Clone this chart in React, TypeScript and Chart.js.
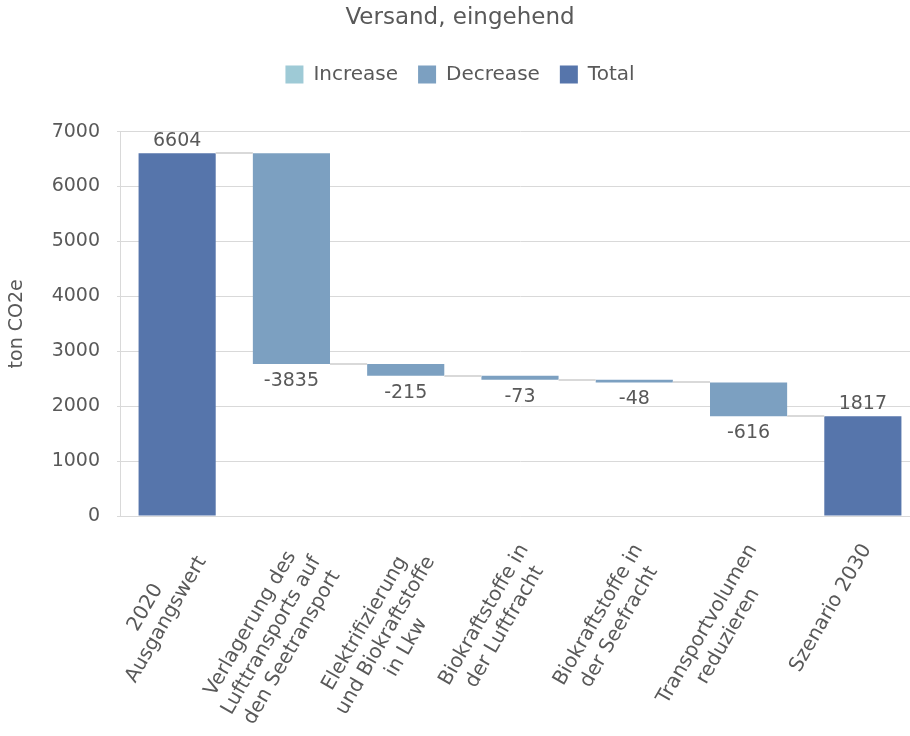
import React, { useEffect, useRef } from "react";
import { Chart, registerables } from "chart.js";

Chart.register(...registerables);

// ---- data ----
const chartTitle = "Versand, eingehend";
const yAxisTitle = "ton CO2e";
const categories: string[][] = [
  ["2020", "Ausgangswert"],
  ["Verlagerung des", "Lufttransports auf", "den Seetransport"],
  ["Elektrifizierung", "und Biokraftstoffe", "in Lkw"],
  ["Biokraftstoffe in", "der Luftfracht"],
  ["Biokraftstoffe in", "der Seefracht"],
  ["Transportvolumen", "reduzieren"],
  ["Szenario 2030"],
];
const stepValues = [6604, -3835, -215, -73, -48, -616, 1817];
const stepKinds = ["total", "decrease", "decrease", "decrease", "decrease", "decrease", "total"];
const seriesNames = ["Increase", "Decrease", "Total"];
const seriesKinds = ["increase", "decrease", "total"];
const seriesColors = ["#9ECAD6", "#7CA0C1", "#5675AB"];
const yTickValues = [0, 1000, 2000, 3000, 4000, 5000, 6000, 7000];

// ---- styling constants ----
const FONT = '"DejaVu Sans", sans-serif';
const TEXT = "#595959";
const GRID = "#d9d9d9";

// running levels -> floating ranges
const ranges: [number, number][] = [];
const levelsAfter: number[] = [];
{
  let level = 0;
  stepValues.forEach((v, i) => {
    const k = stepKinds[i];
    if (k === "total") {
      ranges.push([0, v]);
      level = v;
    } else {
      ranges.push([Math.min(level, level + v), Math.max(level, level + v)]);
      level = level + v;
    }
    levelsAfter.push(level);
  });
}

export default function App() {
  const canvasRef = useRef<HTMLCanvasElement | null>(null);

  useEffect(() => {
    const canvas = canvasRef.current;
    if (!canvas) return;

    const datasets = seriesNames.map((name, s) => ({
      label: name,
      data: ranges.map((r, i) => (stepKinds[i] === seriesKinds[s] ? r : null)),
      backgroundColor: seriesColors[s],
      borderWidth: 0,
      barPercentage: 0.675,
      categoryPercentage: 1,
    }));

    const getBar = (chart: any, i: number) => {
      const s = seriesKinds.indexOf(stepKinds[i]);
      const el: any = chart.getDatasetMeta(s).data[i];
      const top = Math.min(el.y, el.base);
      const bottom = Math.max(el.y, el.base);
      return { left: el.x - el.width / 2, right: el.x + el.width / 2, top, bottom, x: el.x };
    };

    const legendSpacer = {
      id: "legendSpacer",
      beforeInit(chart: any) {
        const origFit = chart.legend.fit;
        chart.legend.fit = function () {
          origFit.call(this);
          this.height += 37;
        };
      },
    };

    const waterfallDecor = {
      id: "waterfallDecor",
      afterDatasetsDraw(chart: any) {
        const { ctx } = chart;
        const y = chart.scales.y;
        ctx.save();
        // connectors
        ctx.strokeStyle = GRID;
        ctx.lineWidth = 2;
        for (let i = 0; i < stepValues.length - 1; i++) {
          const a = getBar(chart, i);
          const b = getBar(chart, i + 1);
          const py = Math.round(y.getPixelForValue(levelsAfter[i]));
          ctx.beginPath();
          ctx.moveTo(a.right, py);
          ctx.lineTo(b.left, py);
          ctx.stroke();
        }
        // value labels
        ctx.font = `19px ${FONT}`;
        ctx.fillStyle = TEXT;
        ctx.textAlign = "center";
        ctx.textBaseline = "middle";
        stepValues.forEach((v, i) => {
          const b = getBar(chart, i);
          if (stepKinds[i] === "decrease") {
            ctx.fillText(String(v), b.x, b.bottom + 17);
          } else {
            ctx.fillText(String(v), b.x, b.top - 12);
          }
        });
        ctx.restore();
      },
      afterDraw(chart: any) {
        const { ctx } = chart;
        const xs = chart.scales.x;
        const baseY = chart.chartArea.bottom + 30;
        const LH = 24;
        const ang = (-60 * Math.PI) / 180;
        ctx.save();
        ctx.font = `20px ${FONT}`;
        ctx.fillStyle = TEXT;
        ctx.textAlign = "center";
        ctx.textBaseline = "middle";
        categories.forEach((lines, i) => {
          const x = xs.getPixelForValue(i);
          const W = Math.max(...lines.map((l) => ctx.measureText(l).width));
          ctx.save();
          ctx.translate(x + 4, baseY);
          ctx.rotate(ang);
          lines.forEach((l, j) => ctx.fillText(l, -W / 2, j * LH));
          ctx.restore();
        });
        ctx.restore();
      },
    };

    const chart = new Chart(canvas, {
      type: "bar",
      data: { labels: categories.map((c) => c.join(" ")), datasets: datasets as any },
      options: {
        animation: false,
        responsive: true,
        maintainAspectRatio: false,
        layout: { padding: { top: 0, right: 2, bottom: 220, left: 0 } },
        plugins: {
          title: {
            display: true,
            text: chartTitle,
            color: TEXT,
            font: { family: FONT, size: 23, weight: "normal" },
            padding: { top: 4, bottom: 13 },
          },
          legend: {
            display: true,
            position: "top",
            labels: {
              color: TEXT,
              font: { family: FONT, size: 20 },
              boxWidth: 18,
              boxHeight: 18,
              padding: 20,
            },
          },
          tooltip: { enabled: false },
        },
        scales: {
          x: {
            stacked: true,
            grid: { display: false, drawTicks: false },
            border: { display: true, color: GRID, width: 1 },
            ticks: { display: false },
          },
          y: {
            min: 0,
            max: 7000,
            afterBuildTicks: (scale: any) => {
              scale.ticks = yTickValues.map((v) => ({ value: v }));
            },
            afterFit: (scale: any) => {
              scale.width = 120;
            },
            grid: { color: GRID, lineWidth: 1, drawTicks: true, tickLength: 3 },
            border: { display: true, color: GRID, width: 1 },
            ticks: {
              color: TEXT,
              font: { family: FONT, size: 19 },
              padding: 17,
              callback: (v: any) => String(v),
            },
            title: {
              display: true,
              text: yAxisTitle,
              color: TEXT,
              font: { family: FONT, size: 19 },
              padding: { top: 6, bottom: 0 },
            },
          },
        },
      },
      plugins: [legendSpacer, waterfallDecor],
    });

    return () => chart.destroy();
  }, []);

  return (
    <div style={{ position: "fixed", left: 0, top: 0, width: 910, height: 736, overflow: "hidden", background: "#fff" }}>
      <div style={{ position: "relative", width: 922, height: 736 }}>
        <canvas ref={canvasRef} />
      </div>
    </div>
  );
}
